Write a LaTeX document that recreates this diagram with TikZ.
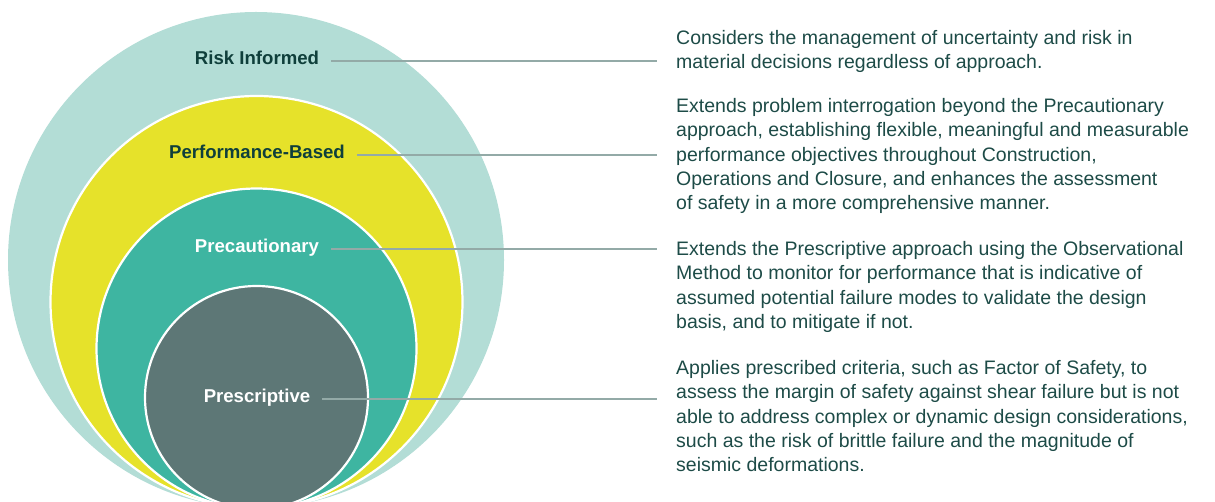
\documentclass[tikz,border=0pt]{standalone}
\usepackage{fontspec}
\setmainfont{Liberation Sans}
\definecolor{cOuter}{HTML}{B3DDD6}
\definecolor{cYellow}{HTML}{E6E22A}
\definecolor{cTeal}{HTML}{3EB5A1}
\definecolor{cGray}{HTML}{5D7776}
\definecolor{cText}{HTML}{1D4B47}
\definecolor{cLabel}{HTML}{0F3F3B}
\definecolor{cLine}{HTML}{93AAA7}
\tikzset{
  ring/.style={circle, inner sep=0pt, draw=white, line width=2.2pt},
  lbl/.style={font=\fontsize{18.6}{22}\selectfont\bfseries, inner sep=0pt, text height=0.72em, text depth=0pt},
  desc/.style={font=\fontsize{19.5}{24.4}\selectfont, text=cText, align=left, inner sep=0pt, anchor=north west},
  leader/.style={draw=cLine, line width=1.1pt, shorten <=12pt, shorten >=19pt}
}
\begin{document}
\begin{tikzpicture}[x=1pt,y=-1pt]
\useasboundingbox (0,0) rectangle (1215,502);
\begin{scope}
\clip (0,0) rectangle (1215,502);
\node[circle, inner sep=0pt, fill=cOuter, minimum size=496pt] (c1) at (256,260) {};
\node[ring, fill=cYellow, minimum size=412pt] (c2) at (256.5,302) {};
\node[ring, fill=cTeal, minimum size=320pt] (c3) at (256.5,348.5) {};
\node[ring, fill=cGray, minimum size=223pt] (c4) at (256.5,397.5) {};
\end{scope}
\node[lbl, text=cLabel] (l1) at (257,61) {Risk Informed};
\node[lbl, text=cLabel] (l2) at (257,155) {Performance-Based};
\node[lbl, text=white] (l3) at (257,249) {Precautionary};
\node[lbl, text=white] (l4) at (257,399) {Prescriptive};
\node[desc] (d1) at (676,30) {Considers the management of uncertainty and risk in\\material decisions regardless of approach.};
\node[desc] (d2) at (676,98) {Extends problem interrogation beyond the Precautionary\\approach, establishing flexible, meaningful and measurable\\performance objectives throughout Construction,\\Operations and Closure, and enhances the assessment\\of safety in a more comprehensive manner.};
\node[desc] (d3) at (676,241) {Extends the Prescriptive approach using the Observational\\Method to monitor for performance that is indicative of\\assumed potential failure modes to validate the design\\basis, and to mitigate if not.};
\node[desc] (d4) at (676,360) {Applies prescribed criteria, such as Factor of Safety, to\\assess the margin of safety against shear failure but is not\\able to address complex or dynamic design considerations,\\such as the risk of brittle failure and the magnitude of\\seismic deformations.};
\draw[leader] (l1.east) -- (l1.east -| d1.west);
\draw[leader] (l2.east) -- (l2.east -| d2.west);
\draw[leader] (l3.east) -- (l3.east -| d3.west);
\draw[leader] (l4.east) -- (l4.east -| d4.west);
\end{tikzpicture}
\end{document}
